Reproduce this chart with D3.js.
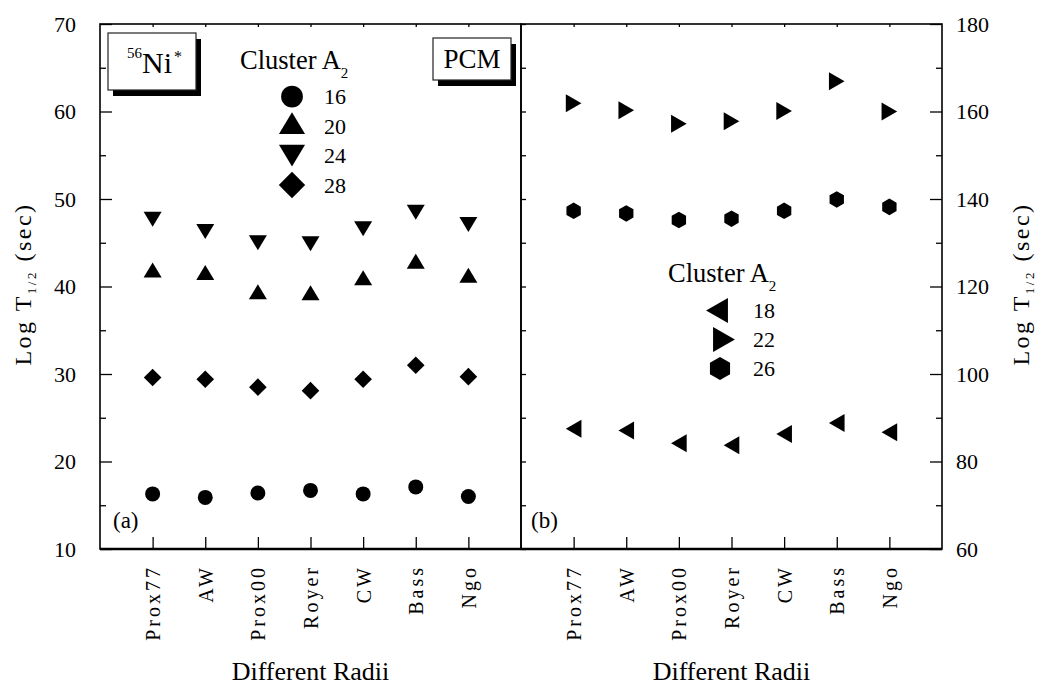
<!DOCTYPE html>
<html>
<head>
<meta charset="utf-8">
<script src="https://cdn.jsdelivr.net/npm/d3@7"></script>
<style>
  body { margin: 0; background: #fff; }
</style>
</head>
<body>
<div id="chart"></div>
<script>
var categories = ["Prox77", "AW", "Prox00", "Royer", "CW", "Bass", "Ngo"];

// panel (a): 56Ni*
var ni16 = [16.3, 15.9, 16.4, 16.7, 16.3, 17.1, 16.0];
var ni20 = [41.9, 41.6, 39.4, 39.3, 41.0, 42.9, 41.3];
var ni24 = [47.7, 46.3, 45.0, 44.9, 46.6, 48.5, 47.1];
var ni28 = [29.6, 29.4, 28.5, 28.1, 29.4, 31.0, 29.7];

// panel (b)
var pcm18 = [87.5, 87.1, 84.2, 83.7, 86.3, 88.8, 86.7];
var pcm22 = [161.9, 160.3, 157.2, 157.8, 160.1, 166.9, 160.0];
var pcm26 = [137.3, 136.7, 135.2, 135.5, 137.3, 139.9, 138.2];

var leftTicks = [10, 20, 30, 40, 50, 60, 70];
var leftMinor = [15, 25, 35, 45, 55, 65];
var rightTicks = [60, 80, 100, 120, 140, 160, 180];
var rightMinor = [70, 90, 110, 130, 150, 170];

var FONT = "'Liberation Serif', 'Times New Roman', Tinos, 'DejaVu Serif', serif";

(function() {
    var width = 1055,
        height = 687,
        top = 24,
        bottom = 549,
        xa0 = 100, xa1 = 521,
        xb0 = 521, xb1 = 942;

    var svg = d3.select("#chart")
        .append("svg")
        .attr("width", width)
        .attr("height", height)
        .attr("font-family", FONT);

    var ya = d3.scaleLinear().domain([10, 70]).range([bottom, top]);
    var yb = d3.scaleLinear().domain([60, 180]).range([bottom, top]);
    var xa = d3.scalePoint().domain(categories).range([xa0, xa1]).padding(1);
    var xb = d3.scalePoint().domain(categories).range([xb0, xb1]).padding(1);

    // marker shapes, centred on their bounding box
    function shape(type, s) {
        var w, h, r;
        if (type === "up") { w = 9 * s; h = 7.5 * s; return "M0," + (-h) + "L" + w + "," + h + "L" + (-w) + "," + h + "Z"; }
        if (type === "down") { w = 9 * s; h = 7.5 * s; return "M" + (-w) + "," + (-h) + "L" + w + "," + (-h) + "L0," + h + "Z"; }
        if (type === "right") { w = 9 * s; h = 7.8 * s; return "M" + (-h) + "," + (-w) + "L" + h + ",0L" + (-h) + "," + w + "Z"; }
        if (type === "left") { w = 9 * s; h = 7.8 * s; return "M" + h + "," + (-w) + "L" + (-h) + ",0L" + h + "," + w + "Z"; }
        if (type === "diamond") { r = 8.8 * s; return "M0," + (-r) + "L" + r + ",0L0," + r + "L" + (-r) + ",0Z"; }
        if (type === "hexagon") {
            r = 8.3 * s;
            var pts = d3.range(6).map(function(k) {
                var a = (-90 + k * 60) * Math.PI / 180;
                return [r * Math.cos(a), r * Math.sin(a)];
            });
            return "M" + pts.join("L") + "Z";
        }
        r = 7.5 * s;
        return "M" + r + ",0A" + r + "," + r + " 0 1,1 " + (-r) + ",0A" + r + "," + r + " 0 1,1 " + r + ",0Z";
    }

    function drawSeries(values, x, y, type) {
        svg.append("g").selectAll("path")
            .data(values)
            .enter().append("path")
            .attr("d", shape(type, 1))
            .attr("fill", "#000")
            .attr("transform", function(d, i) {
                return "translate(" + x(categories[i]) + "," + y(d) + ")";
            });
    }

    function clean(g) {
        g.attr("font-family", FONT);
        g.select(".domain").remove();
        g.selectAll("line").attr("stroke", "#000").attr("stroke-width", 1.3);
    }

    // left panel axes
    svg.append("g")
        .attr("transform", "translate(" + xa0 + ",0)")
        .call(d3.axisLeft(ya).tickValues(leftTicks).tickSizeInner(-12).tickSizeOuter(0).tickPadding(24))
        .call(clean)
        .selectAll("text").attr("font-size", 22).attr("fill", "#000");
    svg.append("g")
        .attr("transform", "translate(" + xa0 + ",0)")
        .call(d3.axisLeft(ya).tickValues(leftMinor).tickSizeInner(-6).tickSizeOuter(0).tickFormat(""))
        .call(clean);

    // right panel axes
    svg.append("g")
        .attr("transform", "translate(" + xb1 + ",0)")
        .call(d3.axisRight(yb).tickValues(rightTicks).tickSizeInner(-12).tickSizeOuter(0).tickPadding(14))
        .call(clean)
        .selectAll("text").attr("font-size", 22).attr("fill", "#000");
    svg.append("g")
        .attr("transform", "translate(" + xb1 + ",0)")
        .call(d3.axisRight(yb).tickValues(rightMinor).tickSizeInner(-6).tickSizeOuter(0).tickFormat(""))
        .call(clean);
    svg.append("g")
        .attr("transform", "translate(" + xb0 + ",0)")
        .call(d3.axisLeft(yb).tickValues(rightTicks.concat(rightMinor)).tickSizeInner(-5).tickSizeOuter(0).tickFormat(""))
        .call(clean);

    // category axes, bottom and top
    [xa, xb].forEach(function(x) {
        svg.append("g")
            .attr("transform", "translate(0," + bottom + ")")
            .call(d3.axisBottom(x).tickSizeInner(-12).tickSizeOuter(0).tickPadding(0))
            .call(clean)
            .selectAll("text")
            .attr("font-size", 20)
            .attr("fill", "#000")
            .attr("letter-spacing", 3)
            .attr("text-anchor", "end")
            .attr("transform", "rotate(-90)")
            .attr("x", -16)
            .attr("y", 0)
            .attr("dy", "0.35em");
        svg.append("g")
            .attr("transform", "translate(0," + top + ")")
            .call(d3.axisTop(x).tickSizeInner(-3).tickSizeOuter(0).tickFormat(""))
            .call(clean);
    });

    // frames
    svg.append("rect").attr("x", xa0).attr("y", top).attr("width", xa1 - xa0).attr("height", bottom - top)
        .attr("fill", "none").attr("stroke", "#000").attr("stroke-width", 1.6);
    svg.append("rect").attr("x", xb0).attr("y", top).attr("width", xb1 - xb0).attr("height", bottom - top)
        .attr("fill", "none").attr("stroke", "#000").attr("stroke-width", 1.6);
    svg.append("line").attr("x1", xa0).attr("x2", xb1).attr("y1", bottom).attr("y2", bottom)
        .attr("stroke", "#000").attr("stroke-width", 2.4);

    // data
    drawSeries(ni16, xa, ya, "circle");
    drawSeries(ni20, xa, ya, "up");
    drawSeries(ni24, xa, ya, "down");
    drawSeries(ni28, xa, ya, "diamond");
    drawSeries(pcm18, xb, yb, "left");
    drawSeries(pcm22, xb, yb, "right");
    drawSeries(pcm26, xb, yb, "hexagon");

    // axis titles
    function yTitle(x) {
        var t = svg.append("text")
            .attr("transform", "translate(" + x + ",284) rotate(-90)")
            .attr("text-anchor", "middle")
            .attr("font-size", 24)
            .attr("letter-spacing", 2.5);
        t.append("tspan").text("Log T");
        t.append("tspan").attr("font-size", 13).attr("dy", 5).text("1/2");
        t.append("tspan").attr("dy", -5).text(" (sec)");
    }
    yTitle(31);
    yTitle(1029);

    [[xa0, xa1], [xb0, xb1]].forEach(function(p) {
        svg.append("text")
            .attr("x", (p[0] + p[1]) / 2)
            .attr("y", 680)
            .attr("text-anchor", "middle")
            .attr("font-size", 26)
            .text("Different Radii");
    });

    // panel labels
    svg.append("text").attr("x", 113).attr("y", 528).attr("font-size", 23).text("(a)");
    svg.append("text").attr("x", 531).attr("y", 528).attr("font-size", 23).text("(b)");

    // boxed tags with shadow
    function tag(x, y, w, h) {
        svg.append("rect").attr("x", x + 5).attr("y", y + 6).attr("width", w).attr("height", h).attr("fill", "#000");
        svg.append("rect").attr("x", x).attr("y", y).attr("width", w).attr("height", h)
            .attr("fill", "#fff").attr("stroke", "#222").attr("stroke-width", 1.2);
    }
    tag(108, 33, 88, 57);
    var ni = svg.append("text").attr("x", 127).attr("y", 73).attr("font-size", 30);
    ni.append("tspan").attr("font-size", 15).attr("dy", -15).text("56");
    ni.append("tspan").attr("dy", 15).text("Ni");
    ni.append("tspan").attr("font-size", 16).attr("dy", -11).attr("dx", 2).text("*");

    tag(433, 38, 78, 42);
    svg.append("text").attr("x", 472).attr("y", 68).attr("text-anchor", "middle").attr("font-size", 27).text("PCM");

    // legends
    function legend(tx, ty, mx, nx, rows) {
        var t = svg.append("text").attr("x", tx).attr("y", ty).attr("font-size", 26.5);
        t.append("tspan").text("Cluster A");
        t.append("tspan").attr("font-size", 15).attr("dy", 9).text("2");
        rows.forEach(function(r) {
            svg.append("path")
                .attr("d", shape(r.type, r.s))
                .attr("fill", "#000")
                .attr("transform", "translate(" + (mx + (r.dx || 0)) + "," + (r.y - 7.5 + (r.dy || 0)) + ")");
            svg.append("text").attr("x", nx).attr("y", r.y).attr("font-size", 22).text(r.label);
        });
    }
    legend(240, 69, 292, 324, [
        {type: "circle", s: 1.45, y: 104, label: "16"},
        {type: "up", s: 1.45, y: 133.5, label: "20", dy: -3},
        {type: "down", s: 1.45, y: 163, label: "24"},
        {type: "diamond", s: 1.5, y: 192.5, label: "28"}
    ]);
    legend(668, 282, 720, 753, [
        {type: "left", s: 1.4, y: 318, label: "18", dx: -3},
        {type: "right", s: 1.4, y: 347, label: "22", dx: 4},
        {type: "hexagon", s: 1.4, y: 376, label: "26"}
    ]);
})();
</script>
</body>
</html>
